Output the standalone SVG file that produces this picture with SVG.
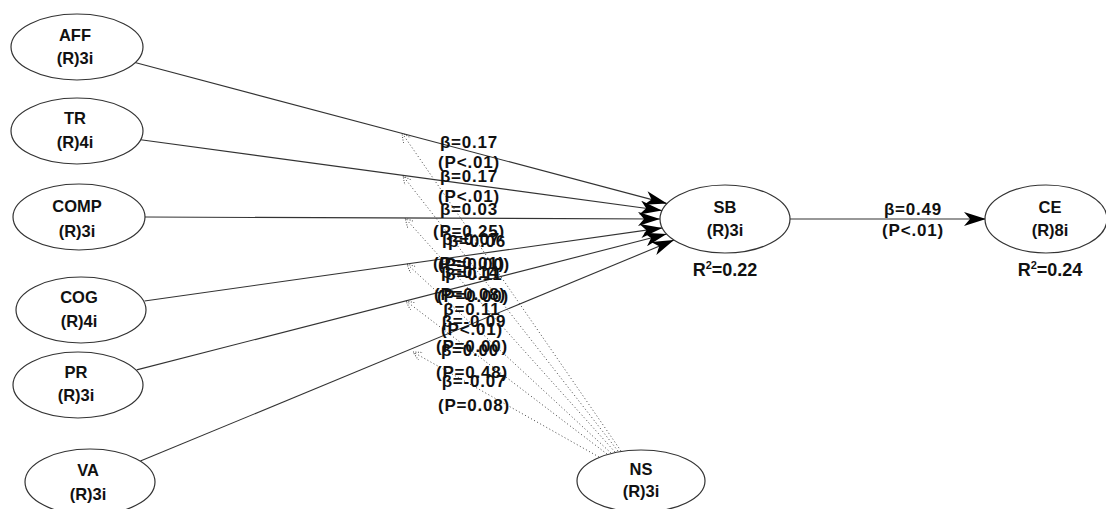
<svg xmlns="http://www.w3.org/2000/svg" width="1106" height="509" viewBox="0 0 1106 509">
<style>
.node ellipse{fill:#fff;stroke:#333;stroke-width:1.2}
.nt{font-family:"Liberation Sans",Arial,sans-serif;font-weight:bold;font-size:16.5px;fill:#111;text-anchor:middle}
.r2{font-family:"Liberation Sans",Arial,sans-serif;font-weight:bold;font-size:18px;fill:#111;text-anchor:middle}
.lb{font-family:"Liberation Sans",Arial,sans-serif;font-weight:bold;font-size:17px;letter-spacing:0.8px;fill:#111;text-anchor:middle}
.path{stroke:#333;stroke-width:1.1;fill:none;marker-end:url(#arr)}
.mod{stroke:#444;stroke-width:1;stroke-dasharray:1 2.5;fill:none;marker-end:url(#open)}
</style>
<defs>
<marker id="arr" viewBox="0 0 22 14" refX="22" refY="7" markerWidth="22" markerHeight="14" markerUnits="userSpaceOnUse" orient="auto">
<path d="M0,0 L22,7 L0,14 L6,7 Z" fill="#000"/>
</marker>
<marker id="open" viewBox="0 0 9 9" refX="9" refY="4.5" markerWidth="9" markerHeight="9" markerUnits="userSpaceOnUse" orient="auto">
<path d="M0,0 L9,4.5 L0,9" fill="none" stroke="#444" stroke-width="1" stroke-dasharray="1 1.5"/>
</marker>
</defs>
<rect width="1106" height="509" fill="#fff"/>
<g id="connectors">
<line class="mod" x1="621" y1="451" x2="402" y2="133"/>
<line class="mod" x1="618" y1="451" x2="403" y2="176"/>
<line class="mod" x1="615" y1="452" x2="405" y2="218"/>
<line class="mod" x1="611" y1="453" x2="407" y2="264"/>
<line class="mod" x1="607" y1="454" x2="406" y2="301"/>
<line class="mod" x1="599" y1="457" x2="413" y2="352"/>
<line class="path" x1="135" y1="62.5" x2="667" y2="203.6"/>
<line class="path" x1="140.7" y1="139.7" x2="662" y2="210.5"/>
<line class="path" x1="145" y1="217" x2="660" y2="219"/>
<line class="path" x1="144.5" y1="301" x2="662.3" y2="227.9"/>
<line class="path" x1="136.7" y1="369.9" x2="666.6" y2="234"/>
<line class="path" x1="140.4" y1="461.1" x2="674" y2="240.1"/>
<line class="path" x1="790" y1="219" x2="986" y2="219"/>
</g>
<g id="labels">
<text class="lb" x="469" y="148">β=0.17</text>
<text class="lb" x="469" y="168">(P&lt;.01)</text>
<text class="lb" x="469" y="182">β=0.17</text>
<text class="lb" x="469" y="202">(P&lt;.01)</text>
<text class="lb" x="469" y="215">β=0.03</text>
<text class="lb" x="469" y="237">(P=0.25)</text>
<text class="lb" x="471" y="245">β=0.07</text>
<text class="lb" x="477" y="247">β=0.06</text>
<text class="lb" x="469" y="269">(P=0.01)</text>
<text class="lb" x="474" y="270">(P=0.00)</text>
<text class="lb" x="470" y="278">β=0.14</text>
<text class="lb" x="474" y="280">β=0.11</text>
<text class="lb" x="470" y="300">(P=0.08)</text>
<text class="lb" x="473" y="302">(P=0.00)</text>
<text class="lb" x="472" y="315">β=0.11</text>
<text class="lb" x="474" y="327">β=-0.09</text>
<text class="lb" x="472" y="335">(P&lt;.01)</text>
<text class="lb" x="472" y="352">(P=0.00)</text>
<text class="lb" x="470" y="356">β=0.00</text>
<text class="lb" x="472" y="378">(P=0.48)</text>
<text class="lb" x="474" y="387">β=-0.07</text>
<text class="lb" x="474" y="411">(P=0.08)</text>
<text class="lb" x="913" y="215">β=0.49</text>
<text class="lb" x="913" y="236">(P&lt;.01)</text>
</g>
<g id="AFF" class="node"><ellipse cx="77" cy="47" rx="66" ry="33"/><text class="nt" x="75" y="41">AFF</text><text class="nt" x="75" y="64">(R)3i</text></g>
<g id="TR" class="node"><ellipse cx="77" cy="131" rx="66" ry="33"/><text class="nt" x="75" y="124">TR</text><text class="nt" x="75" y="148">(R)4i</text></g>
<g id="COMP" class="node"><ellipse cx="79" cy="217" rx="66" ry="33"/><text class="nt" x="77" y="212">COMP</text><text class="nt" x="77" y="237">(R)3i</text></g>
<g id="COG" class="node"><ellipse cx="81" cy="310" rx="65" ry="33"/><text class="nt" x="79" y="303">COG</text><text class="nt" x="79" y="327">(R)4i</text></g>
<g id="PR" class="node"><ellipse cx="78" cy="385" rx="65" ry="33"/><text class="nt" x="76" y="378">PR</text><text class="nt" x="76" y="401">(R)3i</text></g>
<g id="VA" class="node"><ellipse cx="90" cy="482" rx="65" ry="33"/><text class="nt" x="88" y="476">VA</text><text class="nt" x="88" y="500">(R)3i</text></g>
<g id="SB" class="node"><ellipse cx="725" cy="219" rx="65" ry="34"/><text class="nt" x="725" y="213">SB</text><text class="nt" x="725" y="236">(R)3i</text><text class="r2" x="725" y="276">R<tspan dy="-7" font-size="11">2</tspan><tspan dy="7">=0.22</tspan></text></g>
<g id="CE" class="node"><ellipse cx="1046" cy="219" rx="61" ry="34"/><text class="nt" x="1050" y="213">CE</text><text class="nt" x="1050" y="236">(R)8i</text><text class="r2" x="1050" y="276">R<tspan dy="-7" font-size="11">2</tspan><tspan dy="7">=0.24</tspan></text></g>
<g id="NS" class="node"><ellipse cx="641" cy="481" rx="64" ry="31"/><text class="nt" x="641" y="475">NS</text><text class="nt" x="641" y="497">(R)3i</text></g>
</svg>
